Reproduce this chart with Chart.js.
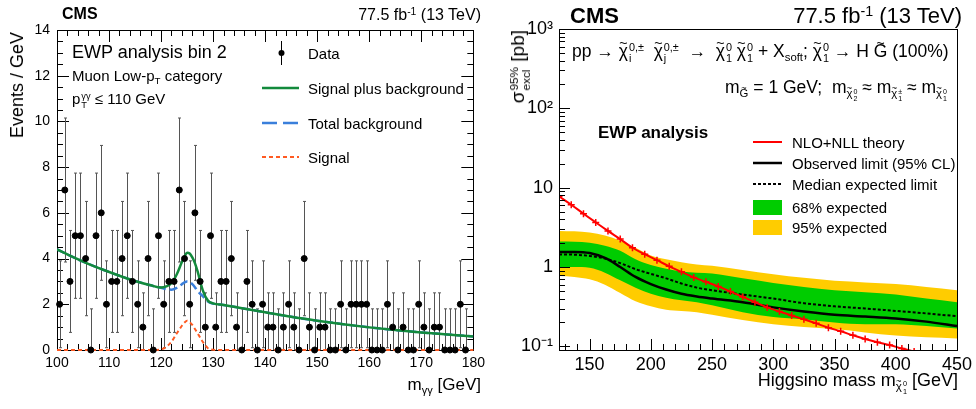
<!DOCTYPE html>
<html>
<head>
<meta charset="utf-8">
<script src="https://cdn.jsdelivr.net/npm/chart.js@4.4.1/dist/chart.umd.min.js"></script>
<style>
body { margin: 0; background: #fff; }
#wrap { position: relative; width: 976px; height: 409px; overflow: hidden; font-family: "Liberation Sans", Arial, Helvetica, sans-serif; color: #000; }
#cl { position: absolute; left: 0; top: 0; }
#cr { position: absolute; left: 490px; top: 0; }
.t { position: absolute; white-space: nowrap; line-height: 1; }
sub, sup { font-size: 0.65em; line-height: 0; position: relative; vertical-align: baseline; }
sub { top: 0.35em; }
sup { top: -0.5em; }
.ss { display: inline-flex; flex-direction: column; font-size: 0.62em; line-height: 1; vertical-align: 0.55em; height: 1em; margin-left: 1px; }
.tc { position: relative; display: inline-block; }
.tc::before { content: '~'; position: absolute; left: 0; right: 0; text-align: center; top: -0.55em; font-size: 0.8em; }
.vt { transform-origin: 0 0; transform: rotate(-90deg) translateX(-100%); }
</style>
</head>
<body>
<div id="wrap">
  <canvas id="cl" width="490" height="409"></canvas>
  <canvas id="cr" width="486" height="409"></canvas>
</div>
<script>
Chart.defaults.font.family = '"Liberation Sans", Arial, Helvetica, sans-serif';
Chart.defaults.color = '#000';
Chart.defaults.animation = false;

// ---------- LEFT PANEL DATA (m_gg, 1 GeV bins from 100) ----------
const binLow = 100;
const counts = [2, 7, 3, 5, 5, 4, 0, 5, 6, 2,
                3, 3, 4, 5, 3, 2, 1, 4, 0, 5,
                2, 3, 3, 7, 4, 2, 6, 3, 1, 5,
                1, 3, 3, 4, 1, 0, 3, 2, 0, 2,
                1, 1, 0, 1, 2, 1, 0, 4, 1, 0,
                1, 1, 0, 0, 2, 0, 2, 2, 2, 2,
                0, 0, 0, 2, 1, 0, 1, 0, 0, 2,
                1, 0, 1, 1, 0, 0, 0, 2, 0];
// error bar (down, up) read per count value
const errByCount = [[0, 1.8], [1, 1.5], [1.9, 1.9], [2.23, 2.23], [2.5, 2.5], [2.74, 2.74], [2.95, 2.95], [3.15, 3.15]];

const fitMass = [100, 103, 106, 109, 112, 115, 118, 120, 121, 122, 123, 124, 124.5, 125, 125.5, 126, 126.5, 127, 128, 129, 130, 132, 135, 140, 145, 150, 155, 160, 165, 170, 175, 180];
const sigPlusBkg = [4.4, 4.07, 3.77, 3.5, 3.25, 3.02, 2.83, 2.73, 2.78, 2.92, 3.3, 3.85, 4.08, 4.25, 4.22, 4.05, 3.8, 3.45, 2.62, 2.16, 2.04, 1.97, 1.85, 1.65, 1.45, 1.28, 1.13, 0.99, 0.87, 0.77, 0.68, 0.59];
const totalBkg   = [4.4, 4.07, 3.77, 3.5, 3.25, 3.02, 2.83, 2.72, 2.66, 2.64, 2.72, 2.88, 2.96, 3.0, 2.97, 2.88, 2.75, 2.58, 2.36, 2.12, 2.03, 1.97, 1.85, 1.65, 1.45, 1.28, 1.13, 0.99, 0.87, 0.77, 0.68, 0.59];
const signalFit  = [0, 0, 0, 0, 0, 0, 0, 0.03, 0.14, 0.36, 0.72, 1.06, 1.2, 1.28, 1.22, 1.1, 0.92, 0.74, 0.36, 0.08, 0.01, 0, 0, 0, 0, 0, 0, 0, 0, 0, 0, 0];

const xTicksL = [100, 110, 120, 130, 140, 150, 160, 170, 180];
const yTicksL = [0, 2, 4, 6, 8, 10, 12, 14];

// ---------- RIGHT PANEL DATA (Higgsino limits) ----------
const theoryMass = [125, 135, 145, 155, 165, 175, 185, 195, 205, 215, 225, 235, 245, 255, 265, 275, 285, 295, 305, 315, 325, 335, 345, 355, 365, 375, 385, 395, 405, 415];
const theoryXsec = [7.8, 6.1, 4.7, 3.65, 2.85, 2.25, 1.75, 1.45, 1.22, 1.02, 0.87, 0.74, 0.65, 0.57, 0.49, 0.42, 0.36, 0.31, 0.275, 0.245, 0.22, 0.195, 0.172, 0.155, 0.138, 0.124, 0.113, 0.104, 0.094, 0.086];

const limitMass = [125, 137.5, 150, 162.5, 175, 187.5, 200, 212.5, 225, 237.5, 250, 275, 300, 325, 350, 375, 400, 425, 450];
const observed  = [1.55, 1.55, 1.5, 1.3, 1.0, 0.75, 0.61, 0.52, 0.46, 0.425, 0.40, 0.36, 0.31, 0.275, 0.25, 0.238, 0.225, 0.205, 0.18];
const expected  = [1.44, 1.43, 1.38, 1.28, 1.12, 0.94, 0.82, 0.72, 0.62, 0.55, 0.51, 0.45, 0.40, 0.35, 0.32, 0.30, 0.28, 0.26, 0.24];
const exp68Up   = [2.1, 2.08, 2.02, 1.85, 1.6, 1.25, 1.06, 0.95, 0.88, 0.85, 0.83, 0.72, 0.63, 0.56, 0.51, 0.48, 0.45, 0.40, 0.36];
const exp68Dn   = [1.0, 1.0, 0.98, 0.85, 0.68, 0.55, 0.46, 0.41, 0.38, 0.36, 0.33, 0.27, 0.235, 0.22, 0.20, 0.19, 0.19, 0.18, 0.168];
const exp95Up   = [2.85, 2.82, 2.72, 2.5, 2.15, 1.75, 1.4, 1.25, 1.15, 1.08, 1.04, 0.92, 0.81, 0.73, 0.67, 0.64, 0.61, 0.56, 0.51];
const exp95Dn   = [0.77, 0.75, 0.70, 0.6, 0.47, 0.37, 0.32, 0.29, 0.28, 0.27, 0.25, 0.215, 0.19, 0.175, 0.165, 0.15, 0.137, 0.13, 0.126];

const xTicksR = [150, 200, 250, 300, 350, 400, 450];
const yTicksR = [0.1, 1, 10, 100, 1000];
const yLabelsR = ['10\u207B\u00B9', '1', '10', '10\u00B2', '10\u00B3'];

// ---------- helpers ----------
function pts(xs, ys) { return xs.map((x, i) => ({ x: x, y: ys[i] })); }

function linTicks(min, max, minor, major, lMaj, lMin) {
  const out = [];
  for (let v = min; v <= max + 1e-9; v += minor) {
    const isMaj = Math.abs(v / major - Math.round(v / major)) < 1e-6;
    out.push({ v: v, len: isMaj ? lMaj : lMin });
  }
  return out;
}
function logTicks(min, max, lMaj, lMin) {
  const out = [];
  for (let d = 0.01; d <= 1000; d *= 10) {
    for (let k = 1; k <= 9; k++) {
      const v = k * d;
      if (v >= min && v <= max * 1.0001) out.push({ v: v, len: k === 1 ? lMaj : lMin });
    }
  }
  return out;
}

// ROOT like frame with ticks inside
function drawFrame(chart, o) {
  const { ctx, chartArea: a } = chart;
  const x = chart.scales.x, y = chart.scales.y;
  ctx.save();
  ctx.strokeStyle = '#000';
  ctx.lineWidth = 1;
  ctx.beginPath();
  o.xTicks.forEach(t => {
    const px = Math.round(x.getPixelForValue(t.v)) + 0.5;
    ctx.moveTo(px, a.bottom); ctx.lineTo(px, a.bottom - t.len);
    if (o.mirror) { ctx.moveTo(px, a.top); ctx.lineTo(px, a.top + t.len); }
  });
  o.yTicks.forEach(t => {
    const py = Math.round(y.getPixelForValue(t.v)) + 0.5;
    ctx.moveTo(a.left, py); ctx.lineTo(a.left + t.len, py);
    if (o.mirror) { ctx.moveTo(a.right, py); ctx.lineTo(a.right - t.len, py); }
  });
  ctx.stroke();
  ctx.strokeRect(Math.round(a.left) + 0.5, Math.round(a.top) + 0.5, Math.round(a.width), Math.round(a.height));
  ctx.restore();
}
const rootFrame = {
  id: 'rootFrame',
  beforeDatasetsDraw(chart, args, o) { if (o.under) drawFrame(chart, o); },
  afterDraw(chart, args, o) { if (!o.under) drawFrame(chart, o); }
};

// ---------- LEFT CHART ----------
const dataPts = [];
counts.forEach((n, i) => dataPts.push({ x: binLow + i + 0.5, y: n }));

const errorBars = {
  id: 'errorBars',
  beforeDatasetsDraw(chart) {
    const { ctx, scales: { x, y } } = chart;
    ctx.save();
    ctx.strokeStyle = '#555';
    ctx.lineWidth = 1;
    ctx.beginPath();
    dataPts.forEach(p => {
      const e = errByCount[p.y];
      const px = Math.round(x.getPixelForValue(p.x)) + 0.5;
      const y0 = y.getPixelForValue(Math.max(0, p.y - e[0]));
      const y1 = y.getPixelForValue(p.y + e[1]);
      ctx.moveTo(px, y0); ctx.lineTo(px, y1);
      ctx.moveTo(px - 1.5, y1); ctx.lineTo(px + 1.5, y1);
      if (p.y - e[0] > 0) { ctx.moveTo(px - 1.5, y0); ctx.lineTo(px + 1.5, y0); }
    });
    ctx.stroke();
    ctx.restore();
  }
};

const legendLeft = {
  id: 'legendLeft',
  afterDraw(chart) {
    const ctx = chart.ctx;
    ctx.save();
    ctx.strokeStyle = '#000'; ctx.lineWidth = 1;
    ctx.beginPath(); ctx.moveTo(281.5, 41); ctx.lineTo(281.5, 65); ctx.stroke();
    ctx.fillStyle = '#000';
    ctx.beginPath(); ctx.arc(281.5, 53, 3, 0, Math.PI * 2); ctx.fill();
    const seg = (yy, col, w, dash) => {
      ctx.strokeStyle = col; ctx.lineWidth = w; ctx.setLineDash(dash);
      ctx.beginPath(); ctx.moveTo(262, yy); ctx.lineTo(299, yy); ctx.stroke();
    };
    seg(88, '#138a3c', 2.5, []);
    seg(123, '#3a7fdb', 2.5, [15, 6]);
    seg(157, '#ff5a22', 2, [4, 3]);
    ctx.restore();
  }
};

new Chart(document.getElementById('cl'), {
  type: 'scatter',
  data: {
    datasets: [
      { label: 'Data', data: dataPts, backgroundColor: '#000', borderColor: '#000', pointRadius: 3, pointHoverRadius: 3, clip: false },
      { type: 'line', label: 'Signal plus background', data: pts(fitMass, sigPlusBkg), borderColor: '#138a3c', borderWidth: 2.5, pointRadius: 0, cubicInterpolationMode: 'monotone', fill: false },
      { type: 'line', label: 'Total background', data: pts(fitMass, totalBkg), borderColor: '#3a7fdb', borderWidth: 2.5, borderDash: [8, 4], pointRadius: 0, cubicInterpolationMode: 'monotone', fill: false },
      { type: 'line', label: 'Signal', data: pts(fitMass, signalFit), borderColor: '#ff5a22', borderWidth: 2, borderDash: [4, 3], pointRadius: 0, cubicInterpolationMode: 'monotone', fill: false, clip: false }
    ]
  },
  options: {
    responsive: false,
    layout: { padding: { top: 30, right: 9, left: 0, bottom: 0 } },
    scales: {
      x: {
        type: 'linear', min: 100, max: 180,
        grid: { display: false, drawTicks: false },
        border: { display: false },
        afterBuildTicks: s => { s.ticks = xTicksL.map(v => ({ value: v })); },
        afterFit: s => { s.height = 59; },
        ticks: { font: { size: 14 }, padding: 5, maxRotation: 0 }
      },
      y: {
        type: 'linear', min: 0, max: 14,
        grid: { display: false, drawTicks: false },
        border: { display: false },
        afterBuildTicks: s => { s.ticks = yTicksL.map(v => ({ value: v })); },
        afterFit: s => { s.width = 57; },
        ticks: { font: { size: 14 }, padding: 7 }
      }
    },
    plugins: {
      legend: { display: false },
      tooltip: { enabled: false },
      rootFrame: { under: true, mirror: true, xTicks: linTicks(100, 180, 2, 10, 12, 6), yTicks: linTicks(0, 14, 0.5, 2, 12, 6) }
    }
  },
  plugins: [rootFrame, errorBars, legendLeft]
});

// ---------- RIGHT CHART ----------
const legendRight = {
  id: 'legendRight',
  afterDraw(chart) {
    const ctx = chart.ctx;
    ctx.save();
    const seg = (yy, col, w, dash) => {
      ctx.strokeStyle = col; ctx.lineWidth = w; ctx.setLineDash(dash);
      ctx.beginPath(); ctx.moveTo(263, yy); ctx.lineTo(292, yy); ctx.stroke();
    };
    seg(142, '#ff0000', 2, []);
    seg(163, '#000', 2.5, []);
    seg(184, '#000', 2, [3, 2]);
    ctx.fillStyle = '#00cc00'; ctx.fillRect(263, 200, 29, 15);
    ctx.fillStyle = '#ffcc00'; ctx.fillRect(263, 220, 29, 15);
    ctx.restore();
  }
};

new Chart(document.getElementById('cr'), {
  type: 'line',
  data: {
    datasets: [
      { label: 'NLO+NLL theory', data: pts(theoryMass, theoryXsec), borderColor: '#ff0000', borderWidth: 2, pointStyle: 'cross', pointRadius: 3.5, pointBorderWidth: 1.5, pointBorderColor: '#ff0000', cubicInterpolationMode: 'monotone', fill: false },
      { label: 'Observed limit (95% CL)', data: pts(limitMass, observed), borderColor: '#000', borderWidth: 2.5, pointRadius: 0, cubicInterpolationMode: 'monotone', fill: false },
      { label: 'Median expected limit', data: pts(limitMass, expected), borderColor: '#000', borderWidth: 2, borderDash: [3, 2], pointRadius: 0, cubicInterpolationMode: 'monotone', fill: false },
      { label: '68% expected', data: pts(limitMass, exp68Up), borderWidth: 0, borderColor: 'rgba(0,0,0,0)', backgroundColor: '#00cc00', pointRadius: 0, cubicInterpolationMode: 'monotone', fill: 4 },
      { label: '68% low', data: pts(limitMass, exp68Dn), borderWidth: 0, borderColor: 'rgba(0,0,0,0)', pointRadius: 0, cubicInterpolationMode: 'monotone', fill: false },
      { label: '95% expected', data: pts(limitMass, exp95Up), borderWidth: 0, borderColor: 'rgba(0,0,0,0)', backgroundColor: '#ffcc00', pointRadius: 0, cubicInterpolationMode: 'monotone', fill: 6 },
      { label: '95% low', data: pts(limitMass, exp95Dn), borderWidth: 0, borderColor: 'rgba(0,0,0,0)', pointRadius: 0, cubicInterpolationMode: 'monotone', fill: false }
    ]
  },
  options: {
    responsive: false,
    layout: { padding: { top: 29, right: 17, left: 0, bottom: 0 } },
    scales: {
      x: {
        type: 'linear', min: 125, max: 450,
        grid: { display: false, drawTicks: false },
        border: { display: false },
        afterBuildTicks: s => { s.ticks = xTicksR.map(v => ({ value: v })); },
        afterFit: s => { s.height = 59; },
        ticks: { font: { size: 18 }, padding: 4, maxRotation: 0 }
      },
      y: {
        type: 'logarithmic', min: 0.09, max: 1000,
        grid: { display: false, drawTicks: false },
        border: { display: false },
        afterBuildTicks: s => { s.ticks = yTicksR.map(v => ({ value: v })); },
        afterFit: s => { s.width = 69; },
        ticks: { font: { size: 18 }, padding: 6, callback: (v, i) => yLabelsR[i] }
      }
    },
    plugins: {
      legend: { display: false },
      tooltip: { enabled: false },
      rootFrame: { under: false, mirror: false, xTicks: linTicks(130, 450, 10, 50, 11, 6), yTicks: logTicks(0.09, 1000, 11, 6) }
    }
  },
  plugins: [rootFrame, legendRight]
});

// ---------- TEXT ----------
const wrap = document.getElementById('wrap');
function put(html, x, y, size, o) {
  o = o || {};
  const d = document.createElement('div');
  d.className = 't';
  d.innerHTML = html;
  d.style.fontSize = size + 'px';
  if (o.bold) d.style.fontWeight = 'bold';
  d.style.top = (y - 0.49 * size) + 'px';
  if (o.right) d.style.right = (976 - x) + 'px';
  else d.style.left = x + 'px';
  wrap.appendChild(d);
  return d;
}
// rotated text, reading upward, its end placed at "top"
function vput(html, cx, top, size) {
  const d = document.createElement('div');
  d.className = 't vt';
  d.innerHTML = html;
  d.style.fontSize = size + 'px';
  d.style.left = (cx - size * 0.5) + 'px';
  d.style.top = top + 'px';
  wrap.appendChild(d);
}
const chi = '<span class="tc">\u03C7</span>';
const ss = (sup, sub) => '<span class="ss"><span>' + sup + '</span><span>' + sub + '</span></span>';

// left
put('CMS', 62, 14, 16, { bold: true });
put('77.5 fb<sup>-1</sup> (13 TeV)', 481, 15, 16, { right: true });
vput('Events / GeV', 17, 32, 18);
put('m<sub>\u03B3\u03B3</sub> [GeV]', 481, 384, 17, { right: true });
put('EWP analysis bin 2', 72, 52, 18);
put('Muon Low-p<sub>T</sub> category', 72, 75, 15);
put('p' + ss('\u03B3\u03B3', 'T') + ' \u2264 110 GeV', 72, 98, 15);
put('Data', 308, 53, 15);
put('Signal plus background', 308, 88, 15);
put('Total background', 308, 123, 15);
put('Signal', 308, 157, 15);

// right
put('CMS', 570, 16, 22, { bold: true });
put('77.5 fb<sup>-1</sup> (13 TeV)', 962, 16, 22, { right: true });
vput('\u03C3' + ss('95%', 'excl') + ' [pb]', 517, 30, 19);
put('pp \u2192 ' + chi + ss('0,\u00B1', 'i') + '&nbsp; ' + chi + ss('0,\u00B1', 'j') + ' &nbsp;\u2192 &nbsp;' + chi + ss('0', '1') + ' ' + chi + ss('0', '1') +
    ' + X<sub>soft</sub>; ' + chi + ss('0', '1') + ' \u2192 H <span class="tc">G</span> (100%)', 572, 51, 17.5);
put('m<sub><span class="tc">G</span></sub> = 1 GeV;&nbsp; m<sub>' + chi + ss('0', '2') + '</sub> \u2248 m<sub>' + chi + ss('\u00B1', '1') + '</sub> \u2248 m<sub>' + chi + ss('0', '1') + '</sub>', 947, 88, 17.5, { right: true });
put('EWP analysis', 598, 132, 17, { bold: true });
put('NLO+NLL theory', 792, 142, 15);
put('Observed limit (95% CL)', 792, 163, 15);
put('Median expected limit', 792, 184, 15);
put('68% expected', 792, 207, 15);
put('95% expected', 792, 227, 15);
put('Higgsino mass m<sub>' + chi + ss('0', '1') + '</sub> [GeV]', 958, 380, 18, { right: true });
</script>
</body>
</html>
